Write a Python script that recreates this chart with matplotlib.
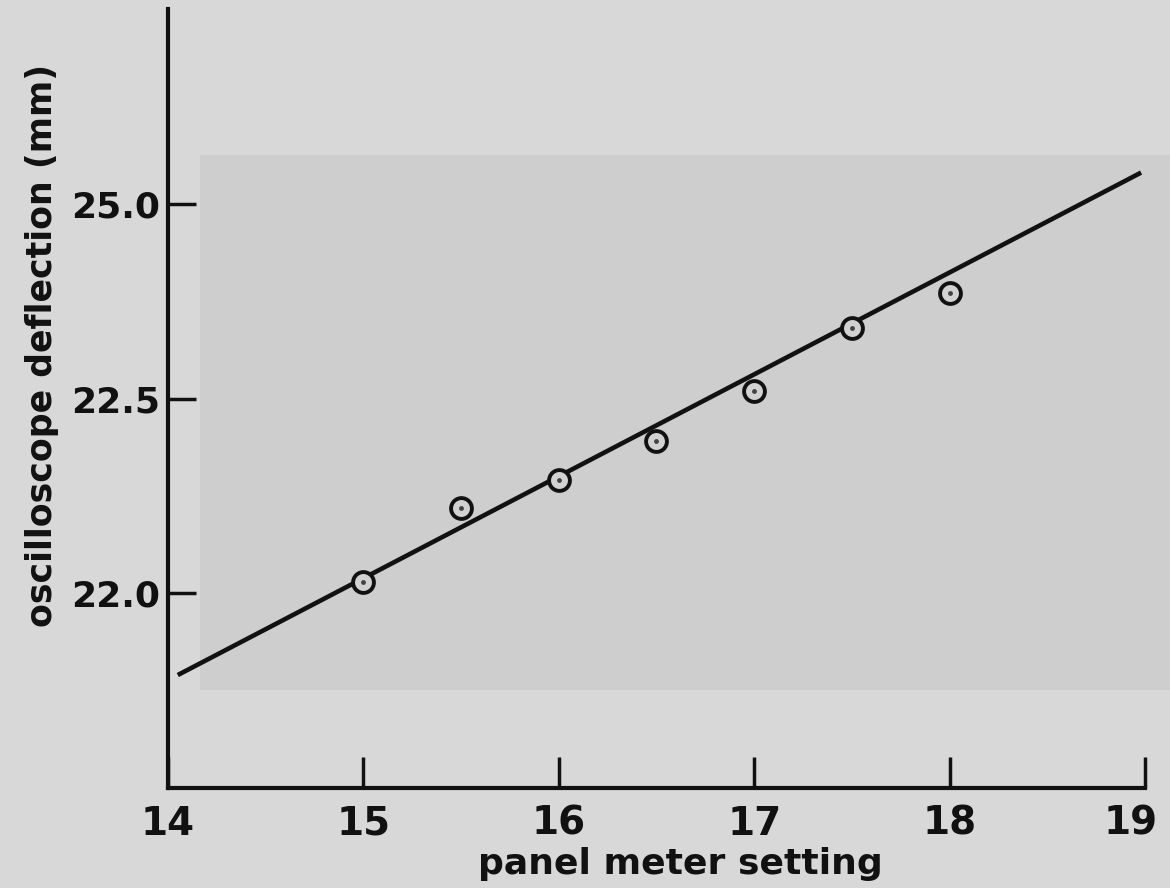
import matplotlib
matplotlib.use("Agg")
import matplotlib.pyplot as plt
from matplotlib.patches import Rectangle
from matplotlib.transforms import ScaledTranslation

# data
setting = [15.0, 15.5, 16.0, 16.5, 17.0, 17.5, 18.0]
deflection = [22.03, 22.22, 22.29, 22.39, 22.52, 22.68, 22.77]
fit_x = [14.05, 18.98]
fit_y = [21.79, 23.08]
xticks = [14, 15, 16, 17, 18, 19]
xticklabels = ["14", "15", "16", "17", "18", "19"]
yticks = [22.0, 22.5, 23.0]
yticklabels = ["22.0", "22.5", "25.0"]

paper = "#d8d8d8"
band = "#cecece"
ink = "#111111"

plt.rcParams['font.family'] = ['DejaVu Sans']
fig = plt.figure(figsize=(11.7, 8.88), dpi=100, facecolor=paper)
fig.patches.append(Rectangle((200/1170, 1-690/888), 970/1170, 535/888,
                             transform=fig.transFigure, facecolor=band,
                             edgecolor='none', zorder=0))

ax = fig.add_axes([168/1170, 1-788/888, (1145-168)/1170, (788-9)/888])
ax.set_zorder(2)
ax.patch.set_alpha(0)

ax.plot(fit_x, fit_y, color=ink, lw=3.3, solid_capstyle='butt', zorder=3)
ax.plot(setting, deflection, linestyle='none', marker='o', ms=15,
        mfc='#d2d2d2', mec=ink, mew=2.8, zorder=4)
ax.plot(setting, deflection, linestyle='none', marker='o', ms=3.5,
        mfc='#444444', mec='none', zorder=5)

ax.set_xlim(14, 19)
ax.set_ylim(21.5, 23.5)
ax.set_xticks(xticks)
ax.set_xticklabels(xticklabels, fontsize=28, fontweight='bold', color=ink)
ax.set_yticks(yticks)
ax.set_yticklabels(yticklabels, fontsize=26, fontweight='bold', color=ink)
ax.tick_params(axis='x', direction='in', length=22, width=2.5, pad=12, colors=ink)
ax.tick_params(axis='y', direction='in', length=20, width=2.5, pad=6, colors=ink)

last = ax.get_xticklabels()[-1]
last.set_transform(last.get_transform() + ScaledTranslation(-14/100, 0, fig.dpi_scale_trans))

for s in ['top', 'right']:
    ax.spines[s].set_visible(False)
for s in ['left', 'bottom']:
    ax.spines[s].set_linewidth(3.0)
    ax.spines[s].set_color(ink)

fig.text(680/1170, 1-864/888, "panel meter setting", ha='center', va='center',
         fontsize=26, fontweight='bold', color=ink)
fig.text(42/1170, 1-345/888, "oscilloscope deflection (mm)", ha='center', va='center',
         rotation=90, fontsize=25, fontweight='bold', color=ink)

fig.savefig("out.png", dpi=100, facecolor=paper)
